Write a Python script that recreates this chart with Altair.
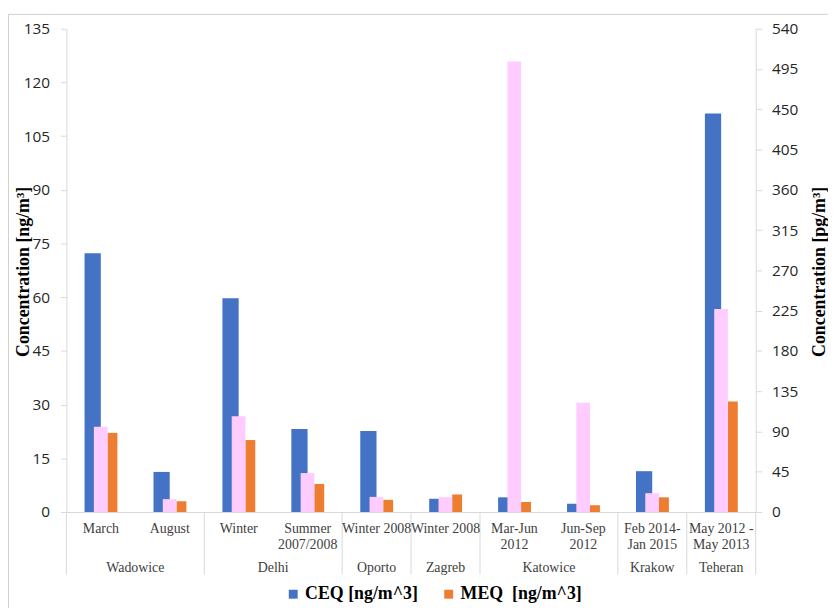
import altair as alt
import pandas as pd

# ---- data ----
cities = ["Wadowice", "Wadowice", "Delhi", "Delhi", "Oporto", "Zagreb",
          "Katowice", "Katowice", "Krakow", "Teheran"]
periods = ["March", "August", "Winter", "Summer\n2007/2008", "Winter 2008",
           "Winter 2008", "Mar-Jun\n2012", "Jun-Sep\n2012",
           "Feb 2014-\nJan 2015", "May 2012 -\nMay 2013"]
ceq = [72.3, 11.2, 59.7, 23.2, 22.6, 3.7, 4.1, 2.3, 11.4, 111.3]      # ng/m^3 (left)
meq = [22.1, 3.0, 20.1, 7.8, 3.4, 4.9, 2.8, 1.9, 4.1, 30.9]           # ng/m^3 (left)
teq = [95.2, 14.4, 107.0, 43.5, 16.9, 16.6, 503.5, 122.0, 21.0, 226.8]  # pg/m^3 (right)

left_ticks = [0, 15, 30, 45, 60, 75, 90, 105, 120, 135]
right_ticks = [0, 45, 90, 135, 180, 225, 270, 315, 360, 405, 450, 495, 540]

ceq_name = "CEQ [ng/m^3]"
meq_name = "MEQ\u00a0 [ng/m^3]"

# ---- tables ----
keys = [f"{c} {p}" for c, p in zip(cities, periods)]
df = pd.DataFrame({"key": keys, "city": cities, "period": periods,
                   "ceq": ceq, "meq": meq, "teq": teq})
df["s_ceq"] = ceq_name
df["s_meq"] = meq_name

groups = []
for i, c in enumerate(cities):
    if i == 0 or cities[i - 1] != c:
        groups.append({"city": c, "key": keys[i], "n": 1})
    else:
        groups[-1]["n"] += 1
grp = pd.DataFrame(groups)
grp1 = grp[grp["n"] == 1]
grp2 = grp[grp["n"] == 2]
edges = pd.DataFrame({"key": list(grp["key"])})
last_edge = pd.DataFrame({"key": [keys[-1]]})

GRID = "#d9d9d9"
TXT = "#404040"
SERIF = "Liberation Serif"
SANS = "Open Sans"

x_axis = alt.Axis(labels=False, ticks=False, title=None, domainColor=GRID, domainWidth=1)
x_scale = alt.Scale(paddingInner=0, paddingOuter=0)
def X(**kw):
    return alt.X("key:N", sort=keys, scale=x_scale, axis=x_axis, **kw)

left_axis = alt.Axis(values=left_ticks, title="Concentration [ng/m³]", grid=False,
                     domainColor=GRID, tickColor=GRID, tickSize=6, labelPadding=11,
                     labelFont=SANS, labelFontSize=15.5, labelColor="#262626",
                     titleFont=SERIF, titleFontSize=18, titleFontWeight="bold",
                     titleColor="black", titleAngle=270, titleBaseline="alphabetic",
                     titleX=-38, titleY=245)
right_axis = alt.Axis(values=right_ticks, title="Concentration [pg/m³]", grid=False,
                      orient="right", domainColor=GRID, tickColor=GRID, tickSize=6,
                      labelPadding=10, labelFont=SANS, labelFontSize=15.5,
                      labelColor="#262626", titleFont=SERIF, titleFontSize=18,
                      titleFontWeight="bold", titleColor="black", titleAngle=270,
                      titleBaseline="alphabetic", titleX=69, titleY=245)
left_scale = alt.Scale(domain=[0, 135], nice=False)
right_scale = alt.Scale(domain=[0, 540], nice=False)

color_scale = alt.Scale(domain=[ceq_name, meq_name], range=["#4472C4", "#ED7D31"])
legend = alt.Legend(orient="none", legendX=220, legendY=562, direction="horizontal",
                    title=None, symbolType="square", symbolSize=81, symbolStrokeWidth=0,
                    labelFont=SERIF, labelFontSize=18, labelFontWeight="bold",
                    labelColor="black", labelOffset=3, columnPadding=22, padding=0)

base = alt.Chart(df)

blue = base.mark_bar(width=16.4, xOffset=-8.3).encode(
    x=X(),
    y=alt.Y("ceq:Q", scale=left_scale, axis=left_axis),
    color=alt.Color("s_ceq:N", scale=color_scale, legend=legend),
)
orange = base.mark_bar(width=10, xOffset=11.7).encode(
    x=X(),
    y=alt.Y("meq:Q", scale=left_scale, axis=left_axis),
    color=alt.Color("s_meq:N", scale=color_scale, legend=legend),
)
pink = base.mark_bar(width=13.8, xOffset=-0.2, color="#FFCCFF").encode(
    x=X(),
    y=alt.Y("teq:Q", scale=right_scale, axis=right_axis),
)

period_text = base.mark_text(font=SERIF, fontSize=14, color=TXT, baseline="alphabetic",
                             lineBreak="\n", lineHeight=16, align="center").encode(
    x=X(), y=alt.value(509), text="period:N")

city_text1 = alt.Chart(grp1).mark_text(font=SERIF, fontSize=14, color=TXT,
                                       baseline="alphabetic", align="center").encode(
    x=X(bandPosition=0.5), y=alt.value(549), text="city:N")
city_text2 = alt.Chart(grp2).mark_text(font=SERIF, fontSize=14, color=TXT,
                                       baseline="alphabetic", align="center").encode(
    x=X(bandPosition=1), y=alt.value(549), text="city:N")

sep = alt.Chart(edges).mark_rule(color=GRID, strokeWidth=1).encode(
    x=X(bandPosition=0), y=alt.value(488), y2=alt.value(551))
sep_end = alt.Chart(last_edge).mark_rule(color=GRID, strokeWidth=1).encode(
    x=X(bandPosition=1), y=alt.value(488), y2=alt.value(551))

frame = alt.Chart(pd.DataFrame({"a": [0]})).mark_rect(
    fillOpacity=0, stroke="#cfcfcf", strokeWidth=1).encode(
    x=alt.value(-58.5), x2=alt.value(800), y=alt.value(-14.5), y2=alt.value(640))

left_group = alt.layer(frame, sep, sep_end, blue, orange, period_text, city_text1, city_text2)

chart = alt.layer(left_group, pink).resolve_scale(y="independent").properties(
    width=696, height=488,
    padding={"left": 59, "top": 18, "right": 73, "bottom": 94},
    autosize="none",
).configure_view(strokeWidth=0)

chart.save("out.html", embed_options={"renderer": "svg", "actions": False})
